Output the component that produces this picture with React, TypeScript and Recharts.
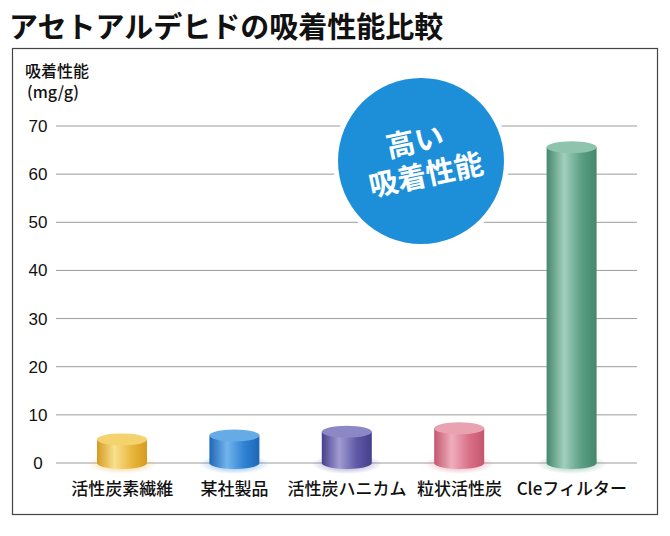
import { BarChart, Bar, XAxis, YAxis, CartesianGrid } from "recharts";

const categories = ["活性炭素繊維", "某社製品", "活性炭ハニカム", "粒状活性炭", "Cleフィルター"];
const adsorption = [4.9, 5.7, 6.5, 7.2, 65.6];
const yTicks = [0, 10, 20, 30, 40, 50, 60, 70];

const data = categories.map((name, i) => ({ name, value: adsorption[i] }));

// cylinder colours: dark edge, base, highlight, top face
const palette = [
  { dark: "#d69a22", base: "#e9b63c", light: "#f8e08c", top: "#f4d26e" },
  { dark: "#1f66b6", base: "#2f82d2", light: "#72b4ec", top: "#66aae6" },
  { dark: "#463f8c", base: "#5e58a6", light: "#a09cd0", top: "#8c88c6" },
  { dark: "#c45670", base: "#d87088", light: "#eeaebb", top: "#e9a2b2" },
  { dark: "#45876d", base: "#5a9e84", light: "#a2cfbd", top: "#8ec3ae" },
];

const jp = '"Noto Sans CJK JP", "Noto Sans", sans-serif';

function Cylinder(props: any) {
  const { x, y, width, height, index } = props;
  const c = palette[index];
  const rx = width / 2;
  const ry = 6;
  const cx = x + rx;
  const bottom = y + height;
  return (
    <g>
      <defs>
        <linearGradient id={`body${index}`} x1="0" y1="0" x2="1" y2="0">
          <stop offset="0%" stopColor={c.dark} />
          <stop offset="35%" stopColor={c.light} />
          <stop offset="70%" stopColor={c.base} />
          <stop offset="100%" stopColor={c.dark} />
        </linearGradient>
        <radialGradient id={`glow${index}`}>
          <stop offset="0%" stopColor={c.base} stopOpacity={0.7} />
          <stop offset="100%" stopColor={c.base} stopOpacity={0} />
        </radialGradient>
      </defs>
      <ellipse cx={cx} cy={bottom + 1} rx={rx + 10} ry={ry + 4} fill={`url(#glow${index})`} />
      <path
        d={`M${x},${y} L${x},${bottom} A${rx},${ry} 0 0 0 ${x + width},${bottom} L${x + width},${y} Z`}
        fill={`url(#body${index})`}
      />
      <ellipse cx={cx} cy={y} rx={rx} ry={ry} fill={c.top} />
    </g>
  );
}

function XTick(props: any) {
  const { x, y, payload } = props;
  return (
    <text x={x} y={y + 32} textAnchor="middle" fontSize={17} fill="#111" fontFamily={jp} fontWeight={500}>
      {payload.value}
    </text>
  );
}

function YTick(props: any) {
  const { y, payload } = props;
  return (
    <text x={38} y={y + 6} textAnchor="middle" fontSize={17} fill="#111" fontFamily='"Liberation Sans", Arial, sans-serif'>
      {payload.value}
    </text>
  );
}

export default function App() {
  return (
    <div style={{ position: "absolute", left: 0, top: 0, width: 670, height: 536, background: "#fff" }}>
      <BarChart
        width={670}
        height={536}
        data={data}
        margin={{ top: 126, right: 33, bottom: 33, left: 0 }}
      >
        <CartesianGrid vertical={false} stroke="#9c9c9c" />
        <XAxis
          dataKey="name"
          axisLine={false}
          tickLine={false}
          tickSize={0}
          tickMargin={0}
          height={40}
          padding={{ left: 10, right: 9 }}
          tick={<XTick />}
          interval={0}
        />
        <YAxis
          domain={[0, 70]}
          ticks={yTicks}
          axisLine={false}
          tickLine={false}
          width={56}
          tick={<YTick />}
        />
        <Bar dataKey="value" barSize={50} shape={<Cylinder />} isAnimationActive={false} />
      </BarChart>
      <svg
        width={670}
        height={536}
        style={{ position: "absolute", left: 0, top: 0, pointerEvents: "none" }}
      >
        <text x={9} y={38} fontSize={29} fontWeight="bold" fill="#111" fontFamily={jp}>
          アセトアルデヒドの吸着性能比較
        </text>
        <rect x={12.5} y={48.5} width={645} height={466} fill="none" stroke="#444" strokeWidth={1.2} />
        <text x={25} y={77} fontSize={16} fill="#111" fontFamily={jp} fontWeight={500}>
          吸着性能
        </text>
        <text x={27} y={98} fontSize={16} fill="#111" fontFamily={jp} fontWeight={500}>
          (mg/g)
        </text>
        <circle cx={421} cy={161} r={88} fill="#fff" />
        <circle cx={421} cy={161} r={83} fill="#1c8fd8" />
        <g transform="rotate(-12 421 161)" fontFamily={jp} fontWeight="bold" fill="#fff" fontSize={29} textAnchor="middle">
          <text x={419} y={151}>高い</text>
          <text x={423} y={186}>吸着性能</text>
        </g>
      </svg>
    </div>
  );
}
